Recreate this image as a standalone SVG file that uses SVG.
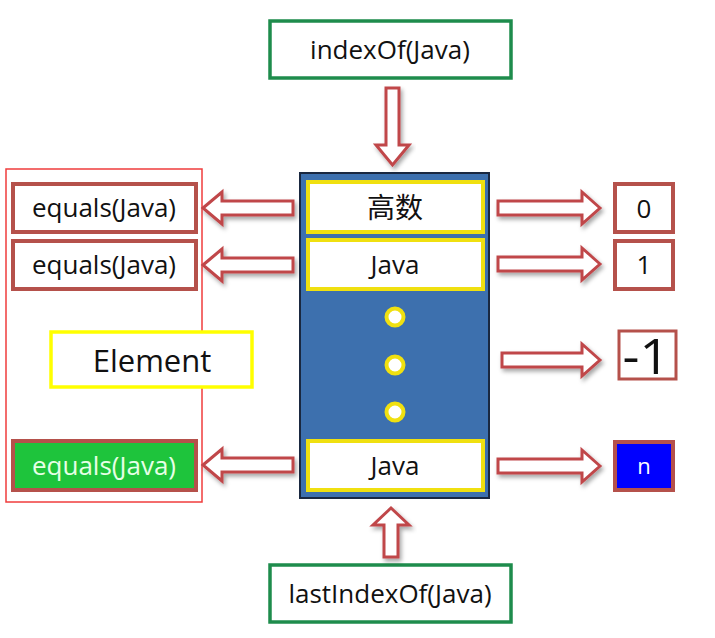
<svg xmlns="http://www.w3.org/2000/svg" width="715" height="638" viewBox="0 0 715 638">
<defs>
<filter id="sh" x="-20%" y="-20%" width="140%" height="160%">
<feDropShadow dx="2" dy="3" stdDeviation="2" flood-color="#000" flood-opacity="0.35"/>
</filter>
<style>
text{font-family:"Open Sans","Liberation Sans","Noto Sans CJK SC",sans-serif;text-anchor:middle;fill:#111}
.g{fill:#fff;stroke:#1e8c4c;stroke-width:3.5}
.r{fill:#fff;stroke:#b5514b;stroke-width:4}
.y{fill:#fff;stroke:#f0e010;stroke-width:4}
.arr{fill:#fff;stroke:#c0464a;stroke-width:3;stroke-linejoin:miter;filter:url(#sh)}
.t26{font-size:26px}
.dot{fill:#fff;stroke:#f0e010;stroke-width:4}
</style>
</defs>
<rect width="715" height="638" fill="#fff"/>

<g id="indexOf">
<rect class="g" x="270" y="21" width="241" height="57"/>
<text x="390" y="59" class="t26">indexOf(Java)</text>
</g>

<g id="lastIndexOf">
<rect class="g" x="270" y="565" width="241" height="57"/>
<text x="390" y="603" class="t26">lastIndexOf(Java)</text>
</g>

<g id="list">
<rect x="300" y="173" width="189" height="325" fill="#3d70ae" stroke="#1a2840" stroke-width="2"/>
</g>
<g id="item0">
<rect class="y" x="308" y="182" width="175" height="50"/>
<text x="395" y="218" style="font-size:28px">高数</text>
</g>
<g id="item1">
<rect class="y" x="308" y="240" width="175" height="49"/>
<text x="395" y="274" class="t26">Java</text>
</g>
<g id="dots">
<circle class="dot" cx="395" cy="317" r="8.5"/>
<circle class="dot" cx="395" cy="365" r="8.5"/>
<circle class="dot" cx="395" cy="412" r="8.5"/>
</g>
<g id="itemN">
<rect class="y" x="308" y="441" width="175" height="49"/>
<text x="395" y="475" class="t26">Java</text>
</g>

<g id="element-frame">
<rect x="6" y="169" width="196" height="333" fill="none" stroke="#f03c3c" stroke-width="1.5"/>
</g>
<g id="equals0">
<rect class="r" x="13" y="184" width="183" height="48"/>
<text x="104" y="217" class="t26">equals(Java)</text>
</g>
<g id="equals1">
<rect class="r" x="13" y="241" width="183" height="48"/>
<text x="104" y="274" class="t26">equals(Java)</text>
</g>
<g id="element">
<rect x="51" y="332" width="201" height="55" fill="#fff" stroke="#ffff00" stroke-width="3.5"/>
<text x="152" y="372" style="font-size:31px">Element</text>
</g>
<g id="equalsN">
<rect x="13" y="441" width="183" height="49" fill="#1ec43c" stroke="#b5514b" stroke-width="4"/>
<text x="104" y="475" class="t26" style="fill:#e6ffe6">equals(Java)</text>
</g>

<g id="r0">
<rect class="r" x="615" y="184" width="58" height="48"/>
<text x="644" y="218" class="t26">0</text>
</g>
<g id="r1">
<rect class="r" x="615" y="241" width="58" height="48"/>
<text x="644" y="274" class="t26">1</text>
</g>
<g id="rminus1">
<rect x="619" y="331" width="57" height="48" fill="#fff" stroke="#b5514b" stroke-width="3"/>
<text x="646" y="374" style="font-size:50px" textLength="47" lengthAdjust="spacingAndGlyphs">-1</text>
</g>
<g id="rn">
<rect x="615" y="442" width="58" height="48" fill="#0000ff" stroke="#b5514b" stroke-width="4"/>
<text x="644" y="474" style="font-size:22px;fill:#fff">n</text>
</g>

<g id="connectors">
<polygon class="arr" points="386,88 399,88 399,145 409,145 392.5,165 376,145 386,145"/>
<polygon class="arr" points="384,557 398,557 398,525 409,525 391,508 373,525 384,525"/>
<polygon class="arr" points="203,208 222,192 222,201 293,201 293,215 222,215 222,224"/>
<polygon class="arr" points="203,265 222,249 222,258 293,258 293,272 222,272 222,281"/>
<polygon class="arr" points="203,465 222,449 222,458 293,458 293,472 222,472 222,481"/>
<polygon class="arr" points="600,208 582,192 582,201 498,201 498,215 582,215 582,224"/>
<polygon class="arr" points="600,264 582,248 582,257 498,257 498,271 582,271 582,280"/>
<polygon class="arr" points="600,360 582,344 582,353 502,353 502,367 582,367 582,376"/>
<polygon class="arr" points="600,466 582,450 582,459 498,459 498,473 582,473 582,482"/>
</g>
</svg>
